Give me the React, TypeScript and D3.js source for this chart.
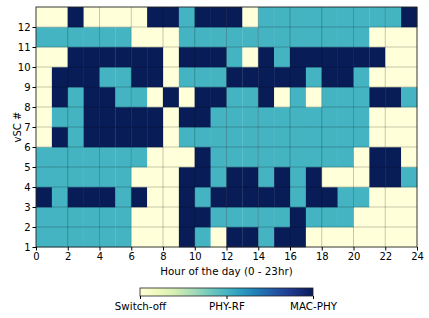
import { useEffect, useRef } from 'react';
import * as d3 from 'd3';

// 0 = Switch-off, 1 = PHY-RF, 2 = MAC-PHY
const stateLabels = ['Switch-off', 'PHY-RF', 'MAC-PHY'];
const hours = d3.range(0, 24);
const xTicks = d3.range(0, 25, 2);
const yTicks = d3.range(1, 13);

const vsc1 = [1, 1, 1, 1, 1, 1, 0, 0, 0, 2, 1, 0, 2, 2, 1, 2, 2, 0, 0, 0, 0, 0, 0, 0];
const vsc2 = [1, 1, 1, 1, 1, 1, 0, 0, 0, 2, 2, 1, 1, 1, 1, 1, 2, 1, 1, 1, 0, 0, 0, 0];
const vsc3 = [2, 1, 2, 2, 2, 1, 2, 0, 0, 2, 1, 2, 2, 2, 2, 2, 1, 2, 2, 1, 1, 0, 0, 0];
const vsc4 = [1, 1, 1, 1, 1, 1, 0, 0, 0, 2, 2, 1, 2, 2, 1, 2, 1, 2, 0, 0, 0, 2, 2, 1];
const vsc5 = [1, 1, 1, 1, 1, 1, 1, 0, 0, 0, 2, 1, 1, 1, 1, 1, 1, 1, 1, 1, 0, 2, 2, 0];
const vsc6 = [0, 2, 1, 2, 2, 2, 2, 2, 0, 1, 1, 1, 1, 1, 1, 1, 1, 1, 1, 1, 1, 0, 0, 0];
const vsc7 = [0, 1, 1, 2, 2, 2, 2, 2, 0, 2, 2, 1, 1, 1, 1, 1, 1, 1, 1, 1, 1, 0, 0, 0];
const vsc8 = [0, 2, 1, 2, 2, 1, 1, 0, 2, 0, 2, 2, 1, 1, 2, 0, 1, 0, 1, 1, 1, 2, 2, 1];
const vsc9 = [0, 2, 2, 2, 1, 1, 2, 2, 0, 1, 1, 1, 2, 2, 2, 2, 2, 1, 2, 2, 1, 0, 0, 0];
const vsc10 = [0, 0, 2, 2, 2, 2, 2, 2, 0, 2, 2, 2, 1, 0, 2, 1, 2, 2, 2, 2, 2, 2, 0, 0];
const vsc11 = [1, 1, 1, 1, 1, 1, 0, 0, 0, 1, 1, 1, 1, 1, 1, 1, 1, 1, 1, 1, 1, 0, 0, 0];
const vsc12 = [0, 0, 2, 0, 0, 0, 0, 2, 2, 1, 2, 2, 2, 0, 1, 1, 1, 1, 1, 1, 1, 1, 1, 2];

const vscRows = [vsc1, vsc2, vsc3, vsc4, vsc5, vsc6, vsc7, vsc8, vsc9, vsc10, vsc11, vsc12];

const App = () => {
  const ref = useRef<SVGSVGElement>(null);

  useEffect(() => {
    document.body.style.margin = '0';
    const root = d3.select(ref.current);
    root.selectAll('*').remove();

    const margin = { top: 7, right: 12, bottom: 71, left: 36 };
    const width = 429 - margin.left - margin.right;
    const height = 318 - margin.top - margin.bottom;
    const font = 'DejaVu Sans, sans-serif';

    const color = (v: number) => d3.interpolateYlGnBu(v / 2);

    const x = d3.scaleLinear().domain([0, 24]).range([0, width]);
    const y = d3.scaleLinear().domain([1, 13]).range([height, 0]);

    const svg = root.append('g').attr('transform', `translate(${margin.left},${margin.top})`);

    // cells
    vscRows.forEach((row, i) => {
      svg
        .append('g')
        .selectAll('rect')
        .data(hours)
        .join('rect')
        .attr('x', (h) => x(h))
        .attr('y', y(i + 2))
        .attr('width', x(1) - x(0) + 0.3)
        .attr('height', y(1) - y(2) + 0.3)
        .attr('fill', (h) => color(row[h]));
    });

    // grid
    svg
      .append('g')
      .selectAll('line')
      .data(xTicks.slice(1, -1))
      .join('line')
      .attr('x1', (d) => x(d))
      .attr('x2', (d) => x(d))
      .attr('y1', 0)
      .attr('y2', height)
      .attr('stroke', '#000')
      .attr('stroke-opacity', 0.25)
      .attr('stroke-width', 0.9);
    svg
      .append('g')
      .selectAll('line')
      .data(yTicks.slice(1))
      .join('line')
      .attr('x1', 0)
      .attr('x2', width)
      .attr('y1', (d) => y(d))
      .attr('y2', (d) => y(d))
      .attr('stroke', '#000')
      .attr('stroke-opacity', 0.25)
      .attr('stroke-width', 0.9);

    // frame
    svg
      .append('rect')
      .attr('width', width)
      .attr('height', height)
      .attr('fill', 'none')
      .attr('stroke', '#222')
      .attr('stroke-width', 0.9);

    // Add X axis
    const xAxis = svg
      .append('g')
      .attr('transform', `translate(0,${height})`)
      .call(d3.axisBottom(x).tickValues(xTicks).tickSize(3.5).tickSizeOuter(0).tickPadding(2));
    xAxis.select('.domain').remove();
    xAxis.selectAll('text').attr('font-family', font).attr('font-size', 10).attr('fill', '#000');

    // Add Y axis
    const yAxis = svg
      .append('g')
      .call(d3.axisLeft(y).tickValues(yTicks).tickSize(3.5).tickSizeOuter(0).tickPadding(2));
    yAxis.select('.domain').remove();
    yAxis.selectAll('text').attr('font-family', font).attr('font-size', 10).attr('fill', '#000');

    svg
      .append('text')
      .attr('x', width / 2)
      .attr('y', height + 27.5)
      .attr('text-anchor', 'middle')
      .attr('font-family', font)
      .attr('font-size', 10.3)
      .text('Hour of the day (0 - 23hr)');

    svg
      .append('text')
      .attr('transform', `translate(-15,${height / 2}) rotate(-90)`)
      .attr('text-anchor', 'middle')
      .attr('font-family', font)
      .attr('font-size', 10)
      .text('vSC #');

    // colorbar
    const cb = { x: 140, y: 288, w: 173, h: 8 };
    const defs = root.append('defs');
    const grad = defs.append('linearGradient').attr('id', 'cbgrad');
    d3.range(0, 1.0001, 0.1).forEach((t) => {
      grad.append('stop').attr('offset', `${t * 100}%`).attr('stop-color', d3.interpolateYlGnBu(t));
    });
    const cbScale = d3.scaleLinear().domain([0, 2]).range([0, cb.w]);
    const cbg = root.append('g').attr('transform', `translate(${cb.x},${cb.y})`);
    cbg.append('rect').attr('width', cb.w).attr('height', cb.h).attr('fill', 'url(#cbgrad)');
    cbg
      .append('rect')
      .attr('width', cb.w)
      .attr('height', cb.h)
      .attr('fill', 'none')
      .attr('stroke', '#222')
      .attr('stroke-width', 0.8);
    const cbAxis = cbg
      .append('g')
      .attr('transform', `translate(0,${cb.h})`)
      .call(
        d3
          .axisBottom(cbScale)
          .tickValues([0, 1, 2])
          .tickFormat((d) => stateLabels[d as number])
          .tickSize(3)
          .tickSizeOuter(0)
          .tickPadding(3.5)
      );
    cbAxis.select('.domain').remove();
    cbAxis.selectAll('text').attr('font-family', font).attr('font-size', 10.3).attr('fill', '#000');
  }, []);

  return <svg ref={ref} width={429} height={318} style={{ display: 'block', background: '#fff' }} />;
};

export default App;
